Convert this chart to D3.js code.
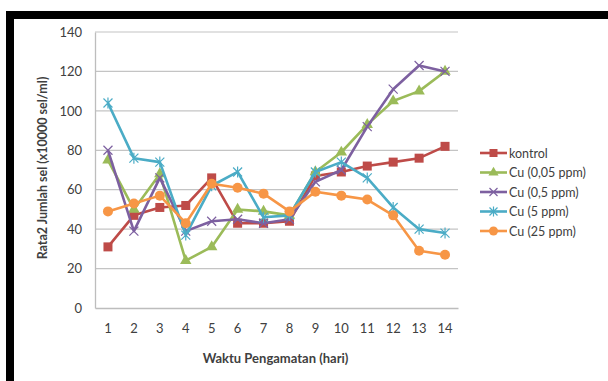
<!DOCTYPE html>
<html>
<head>
<script src="https://d3js.org/d3.v7.min.js"></script>
<style>
  body { margin: 0; background: #fff; }
  text { font-family: Lato, "Open Sans", sans-serif; fill: #404040; }
</style>
</head>
<body>
<svg class="target" width="608" height="381"></svg>
<script>

// data
days = [1, 2, 3, 4, 5, 6, 7, 8, 9, 10, 11, 12, 13, 14]
seriesNames = ['kontrol', 'Cu (0,05 ppm)', 'Cu (0,5 ppm)', 'Cu (5 ppm)', 'Cu (25 ppm)']
kontrol = [31, 47, 51, 52, 66, 43, 43, 44, 67, 69, 72, 74, 76, 82]
cu005 = [75, 50, 68, 24, 31, 50, 49, 47, 69, 79, 93, 105, 110, 120]
cu05 = [80, 39, 66, 39, 44, 45, 43, 45, 64, 70, 92, 111, 123, 120]
cu5 = [104, 76, 74, 37, 62, 69, 46, 47, 69, 74, 66, 51, 40, 38]
cu25 = [49, 53, 57, 43, 63, 61, 58, 49, 59, 57, 55, 47, 29, 27]
yTicks = [0, 20, 40, 60, 80, 100, 120, 140]

colors = ['#BE4B48', '#9BBB59', '#7D60A0', '#4BACC6', '#F79646']
symbols = ['square', 'triangle', 'x', 'star', 'circle']

allSeries = [kontrol, cu005, cu05, cu5, cu25].map((vals, i) => ({
  name: seriesNames[i], values: vals, color: colors[i], sym: symbols[i]
}))

margin = ({ top: 32, right: 150, bottom: 73, left: 95 })
width = 608
height = 381

const svg = d3.select('.target')

// frame: black band on top and left
svg.append('rect').attr('x', 6).attr('y', 11).attr('width', 602).attr('height', 8).attr('fill', '#000')
svg.append('rect').attr('x', 6).attr('y', 11).attr('width', 8).attr('height', 370).attr('fill', '#000')

xScale = d3.scaleBand(days, [margin.left, width - margin.right]).padding(0)
yScale = d3.scaleLinear([0, 140], [height - margin.bottom, margin.top])

// gridlines
svg.append('g')
  .selectAll('line')
  .data(yTicks.slice(1))
  .join('line')
    .attr('x1', margin.left).attr('x2', width - margin.right)
    .attr('y1', d => yScale(d)).attr('y2', d => yScale(d))
    .attr('stroke', '#c4c4c4').attr('stroke-width', 1.2)

// axes
yAxis = d3.axisLeft(yScale).tickValues(yTicks).tickSize(0).tickPadding(13)
svg.append('g')
  .attr('transform', `translate(${margin.left},0)`)
  .call(yAxis)
  .call(g => g.select('.domain').attr('stroke', '#bdbdbd').attr('stroke-width', 1.3))
  .selectAll('text').style('font-size', '13px')

xAxis = d3.axisBottom(xScale).tickSize(0).tickPadding(16)
svg.append('g')
  .attr('transform', `translate(0,${height - margin.bottom})`)
  .call(xAxis)
  .call(g => g.select('.domain').attr('stroke', '#bdbdbd').attr('stroke-width', 1.3))
  .selectAll('text').style('font-size', '13px')

// axis titles
svg.append('text')
  .attr('x', (margin.left + width - margin.right) / 2 - 1)
  .attr('y', 363)
  .attr('text-anchor', 'middle')
  .style('font-size', '13px').style('font-weight', 'bold')
  .text('Waktu Pengamatan (hari)')

svg.append('text')
  .attr('transform', `translate(47,${(margin.top + height - margin.bottom) / 2 - 2}) rotate(-90)`)
  .attr('text-anchor', 'middle')
  .style('font-size', '12.5px').style('font-weight', 'bold')
  .text('Rata2 Jumlah sel (x10000 sel/ml)')

cx = d => xScale(d) + xScale.bandwidth() / 2

line = d3.line()
  .x((v, i) => cx(days[i]))
  .y(v => yScale(v))

function drawMarker(g, sym, color, size) {
  if (sym === 'square') {
    g.append('rect').attr('x', -size / 2).attr('y', -size / 2).attr('width', size).attr('height', size).attr('fill', color)
  } else if (sym === 'triangle') {
    g.append('path').attr('d', d3.symbol(d3.symbolTriangle, size * size * 0.7)()).attr('fill', color)
  } else if (sym === 'circle') {
    g.append('circle').attr('r', size / 2 + 0.5).attr('fill', color)
  } else {
    const h = size / 2
    g.append('path')
      .attr('d', `M${-h},${-h}L${h},${h}M${-h},${h}L${h},${-h}` + (sym === 'star' ? `M0,${-h - 1}L0,${h + 1}` : ''))
      .attr('stroke', color).attr('stroke-width', 1.2).attr('fill', 'none')
  }
}

const lines = svg.append('g')
  .selectAll('g')
  .data(allSeries)
  .join('g')

lines.append('path')
  .attr('d', d => line(d.values))
  .attr('fill', 'none')
  .attr('stroke', d => d.color)
  .attr('stroke-width', 2.6)
  .attr('stroke-linejoin', 'round')

lines.each(function(s) {
  d3.select(this).selectAll('g.m')
    .data(s.values)
    .join('g')
      .attr('class', 'm')
      .attr('transform', (v, i) => `translate(${cx(days[i])},${yScale(v)})`)
      .each(function() { drawMarker(d3.select(this), s.sym, s.color, 9) })
})

// legend
const legend = svg.append('g')
  .selectAll('g')
  .data(allSeries)
  .join('g')
    .attr('transform', (d, i) => `translate(480,${153 + i * 19.5})`)

legend.append('line')
  .attr('x1', 0).attr('x2', 27)
  .attr('stroke', d => d.color).attr('stroke-width', 2.6)

legend.each(function(s) {
  const m = d3.select(this).append('g').attr('transform', 'translate(13.5,0)')
  drawMarker(m, s.sym, s.color, 8)
})

legend.append('text')
  .attr('x', 29).attr('y', 4.5)
  .style('font-size', '12.5px')
  .text(d => d.name)

</script>
</body>
</html>
